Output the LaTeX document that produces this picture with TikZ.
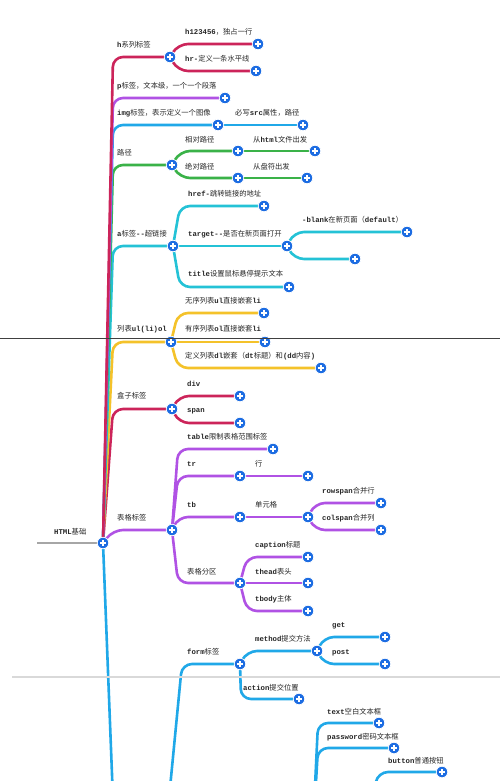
\documentclass[tikz,border=0pt]{standalone}
\usepackage{fontspec}
\setmainfont{Noto Sans CJK SC}
\setmonofont{Liberation Mono}
\usetikzlibrary{calc,backgrounds}
\definecolor{cred}{RGB}{204,36,90}
\definecolor{cpurple}{RGB}{176,82,228}
\definecolor{cblue}{RGB}{32,168,232}
\definecolor{cgreen}{RGB}{58,178,72}
\definecolor{ccyan}{RGB}{36,194,214}
\definecolor{cgold}{RGB}{244,194,42}
\definecolor{nblue}{RGB}{28,108,226}
\newcommand\M[1]{{\ttfamily\bfseries #1}}
\newcommand\conn[4]{\draw[br,#1] (#2.center) -- ($(#2.center |- #3.center)+(#4,0)$) -- (#3.center);}
\begin{document}
\begin{tikzpicture}[x=1pt,y=-1pt,
  plus/.style={circle,fill=nblue,draw=white,line width=0.7pt,minimum size=11.5pt,inner sep=0pt,
    path picture={\draw[white,line width=1.5pt]
      ([xshift=-2.9pt]path picture bounding box.center) -- ([xshift=2.9pt]path picture bounding box.center)
      ([yshift=-2.9pt]path picture bounding box.center) -- ([yshift=2.9pt]path picture bounding box.center);}},
  lbl/.style={anchor=west,inner sep=0pt,font=\fontsize{7.3}{8}\selectfont,text=black!85},
  br/.style={line width=2.6pt,rounded corners=10pt,line cap=round},
]
\useasboundingbox (0,0) rectangle (500,781);
\clip (0,0) rectangle (500,781);

% ---------- circle nodes ----------
\node[plus] (root) at (103,543) {};
\node[plus] (h) at (170,57) {};
\node[plus] (h1) at (258,44) {};
\node[plus] (h2) at (256,71) {};
\node[plus] (p) at (225,98) {};
\node[plus] (img) at (218,125) {};
\node[plus] (imgsrc) at (303,125) {};
\node[plus] (path) at (172,165) {};
\node[plus] (rel) at (238,151) {};
\node[plus] (relc) at (315,151) {};
\node[plus] (abs) at (238,178) {};
\node[plus] (absc) at (307,178) {};
\node[plus] (a) at (173,246) {};
\node[plus] (href) at (264,206) {};
\node[plus] (target) at (287,246) {};
\node[plus] (blank) at (407,232) {};
\node[plus] (empty) at (355,259) {};
\node[plus] (title) at (289,287) {};
\node[plus] (list) at (171,342) {};
\node[plus] (ul) at (264,313) {};
\node[plus] (ol) at (265,342) {};
\node[plus] (dl) at (321,368) {};
\node[plus] (box) at (172,409) {};
\node[plus] (div) at (240,396) {};
\node[plus] (span) at (240,423) {};
\node[plus] (table) at (172,530) {};
\node[plus] (tlim) at (273,449) {};
\node[plus] (tr) at (240,476) {};
\node[plus] (row) at (308,476) {};
\node[plus] (tb) at (240,517) {};
\node[plus] (cell) at (308,517) {};
\node[plus] (rowspan) at (381,503) {};
\node[plus] (colspan) at (381,530) {};
\node[plus] (part) at (240,583) {};
\node[plus] (caption) at (308,557) {};
\node[plus] (thead) at (308,583) {};
\node[plus] (tbody) at (308,611) {};
\node[plus] (form) at (240,664) {};
\node[plus] (method) at (317,651) {};
\node[plus] (get) at (385,637) {};
\node[plus] (post) at (385,664) {};
\node[plus] (action) at (299,699) {};
\node[plus] (text) at (379,723) {};
\node[plus] (password) at (394,748) {};
\node[plus] (button) at (442,772) {};
\coordinate (rootin) at (37,543);
\coordinate (down) at (113,800);
\coordinate (formp) at (164,850);
\coordinate (inp) at (312,850);
\coordinate (btnp) at (372,800);

% ---------- labels ----------
\node[lbl] (l-root) at (54,532) {\M{HTML}基础};
\node[lbl] (l-h) at (117,45) {\M{h}系列标签};
\node[lbl] (l-h1) at (185,32) {\M{h123456}，独占一行};
\node[lbl] (l-h2) at (185,59) {\M{hr-}定义一条水平线};
\node[lbl] (l-p) at (117,86) {\M{p}标签，文本级，一个一个段落};
\node[lbl] (l-img) at (117,113) {\M{img}标签，表示定义一个图像};
\node[lbl] (l-imgsrc) at (235,113) {必写\M{src}属性，路径};
\node[lbl] (l-path) at (117,153) {路径};
\node[lbl] (l-rel) at (185,140) {相对路径};
\node[lbl] (l-relc) at (253,140) {从\M{html}文件出发};
\node[lbl] (l-abs) at (185,167) {绝对路径};
\node[lbl] (l-absc) at (253,167) {从盘符出发};
\node[lbl] (l-a) at (117,234) {\M{a}标签\M{-{}-}超链接};
\node[lbl] (l-href) at (188,194) {\M{href-}跳转链接的地址};
\node[lbl] (l-target) at (188,234) {\M{target-{}-}是否在新页面打开};
\node[lbl] (l-blank) at (302,220) {\M{-blank}在新页面（\M{default}）};
\node[lbl] (l-title) at (188,274) {\M{title}设置鼠标悬停提示文本};
\node[lbl] (l-list) at (117,329) {列表\M{ul(li)ol}};
\node[lbl] (l-ul) at (185,301) {无序列表\M{ul}直接嵌套\M{li}};
\node[lbl] (l-ol) at (185,329) {有序列表\M{ol}直接嵌套\M{li}};
\node[lbl] (l-dl) at (185,356) {定义列表\M{dl}嵌套（\M{dt}标题）和\M{(dd}内容\M{)}};
\node[lbl] (l-box) at (117,396) {盒子标签};
\node[lbl] (l-div) at (187,384) {\M{div}};
\node[lbl] (l-span) at (187,411) {\M{span}};
\node[lbl] (l-table) at (117,518) {表格标签};
\node[lbl] (l-tlim) at (187,437) {\M{table}限制表格范围标签};
\node[lbl] (l-tr) at (187,464) {\M{tr}};
\node[lbl] (l-row) at (255,464) {行};
\node[lbl] (l-tb) at (187,505) {\M{tb}};
\node[lbl] (l-cell) at (255,505) {单元格};
\node[lbl] (l-rowspan) at (322,491) {\M{rowspan}合并行};
\node[lbl] (l-colspan) at (322,518) {\M{colspan}合并列};
\node[lbl] (l-part) at (187,572) {表格分区};
\node[lbl] (l-caption) at (255,545) {\M{caption}标题};
\node[lbl] (l-thead) at (255,572) {\M{thead}表头};
\node[lbl] (l-tbody) at (255,599) {\M{tbody}主体};
\node[lbl] (l-form) at (187,652) {\M{form}标签};
\node[lbl] (l-method) at (255,639) {\M{method}提交方法};
\node[lbl] (l-get) at (332,626) {\M{get}};
\node[lbl] (l-post) at (332,653) {\M{post}};
\node[lbl] (l-action) at (243,688) {\M{action}提交位置};
\node[lbl] (l-text) at (327,712) {\M{text}空白文本框};
\node[lbl] (l-password) at (327,737) {\M{password}密码文本框};
\node[lbl] (l-button) at (388,761) {\M{button}普通按钮};

% ---------- connectors ----------
\begin{pgfonlayer}{background}
\fill[white] (0,0) rectangle (500,781);
\draw[line width=2.4pt,black!35] (rootin) -- (root.center);
\draw[br,cblue] (root.center) -- (down);
\conn{cpurple}{root}{table}{10}
\conn{cred}{root}{box}{10}
\conn{cgold}{root}{list}{10}
\conn{ccyan}{root}{a}{10}
\conn{cgreen}{root}{path}{10}
\conn{cblue}{root}{img}{10}
\conn{cpurple}{root}{p}{10}
\conn{cred}{root}{h}{10}
% h
\conn{cred}{h}{h1}{8}
\conn{cred}{h}{h2}{8}
\conn{cblue}{img}{imgsrc}{8}
% path
\conn{cgreen}{path}{rel}{8}
\conn{cgreen}{path}{abs}{8}
\conn{cgreen}{rel}{relc}{8}
\conn{cgreen}{abs}{absc}{8}
% a
\conn{ccyan}{a}{href}{7}
\conn{ccyan}{a}{target}{7}
\conn{ccyan}{a}{title}{7}
\conn{ccyan}{target}{blank}{7}
\conn{ccyan}{target}{empty}{7}
% list
\conn{cgold}{list}{ul}{7}
\conn{cgold}{list}{ol}{7}
\conn{cgold}{list}{dl}{7}
% box
\conn{cred}{box}{div}{7}
\conn{cred}{box}{span}{7}
% table
\conn{cpurple}{table}{tlim}{6}
\conn{cpurple}{table}{tr}{6}
\conn{cpurple}{table}{tb}{6}
\conn{cpurple}{table}{part}{6}
\conn{cpurple}{tr}{row}{7}
\conn{cpurple}{tb}{cell}{7}
\conn{cpurple}{cell}{rowspan}{7}
\conn{cpurple}{cell}{colspan}{7}
\conn{cpurple}{part}{caption}{7}
\conn{cpurple}{part}{thead}{7}
\conn{cpurple}{part}{tbody}{7}
% form
\draw[br,cblue] (formp) -- ($(formp |- form.center)+(18,0)$) -- (form.center);
\conn{cblue}{form}{method}{7}
\conn{cblue}{form}{action}{1}
\conn{cblue}{method}{get}{7}
\conn{cblue}{method}{post}{7}
\draw[br,cblue] (inp) -- ($(inp |- text.center)+(6,0)$) -- (text.center);
\draw[br,cblue] (inp) -- ($(inp |- password.center)+(6,0)$) -- (password.center);
\draw[br,cblue] (btnp) -- ($(btnp |- button.center)+(6,0)$) -- (button.center);
\end{pgfonlayer}

% screenshot seams
\draw[black!75,line width=0.8pt] (0,338) -- (500,338);
\draw[black!15,line width=1.5pt] (12,677) -- (500,677);
\end{tikzpicture}
\end{document}
